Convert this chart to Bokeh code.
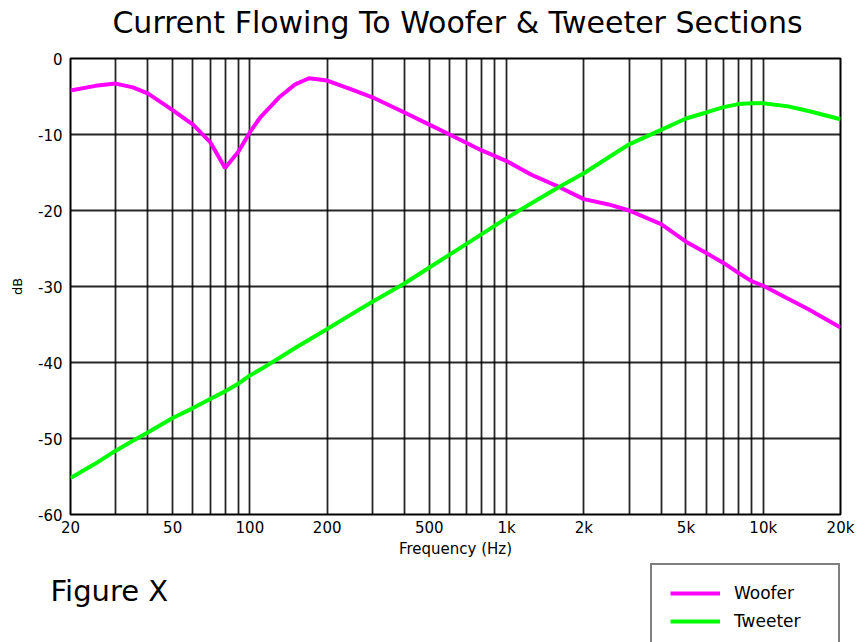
from bokeh.plotting import figure
from bokeh.models import Range1d, FixedTicker, Label, Legend, LegendItem
from bokeh.layouts import column
from bokeh.embed import file_html
from bokeh.resources import INLINE

freq = [20, 25, 30, 35, 40, 50, 60, 70, 80, 90, 100, 110, 130, 150, 170, 200, 250, 300,
        400, 500, 600, 800, 1000, 1250, 1600, 2000, 2500, 3000, 4000, 5000, 6000, 7000,
        8000, 9000, 10000, 12500, 15000, 20000]
woofer = [-4.2, -3.6, -3.3, -3.8, -4.6, -6.8, -8.7, -11.0, -14.4, -12.3, -9.7, -7.7, -5.1,
          -3.4, -2.6, -2.9, -4.1, -5.1, -7.1, -8.7, -10.0, -12.1, -13.5, -15.3, -16.9,
          -18.5, -19.2, -20.0, -21.8, -24.1, -25.6, -26.9, -28.2, -29.3, -29.9, -31.6,
          -33.0, -35.4]
tweeter = [-55.2, -53.3, -51.6, -50.3, -49.2, -47.3, -46.0, -44.8, -43.8, -42.8, -41.7,
           -40.9, -39.4, -38.1, -37.0, -35.6, -33.6, -32.0, -29.6, -27.5, -25.8, -23.1,
           -21.0, -19.05, -16.9, -15.1, -13.0, -11.3, -9.4, -7.9, -7.1, -6.4, -6.0, -5.9,
           -5.9, -6.3, -6.9, -8.0]

x_tick_vals = [20, 50, 100, 200, 500, 1000, 2000, 5000, 10000, 20000]
x_tick_text = ["20", "50", "100", "200", "500", "1k", "2k", "5k", "10k", "20k"]
x_grid_vals = [30, 40, 50, 60, 70, 80, 90, 100, 200, 300, 400, 500, 600, 700, 800, 900,
               1000, 2000, 3000, 4000, 5000, 6000, 7000, 8000, 9000, 10000]
y_tick_vals = [-60, -50, -40, -30, -20, -10, 0]
y_tick_text = ["-60", "-50", "-40", "-30", "-20", "-10", "0"]

series_names = ["Woofer", "Tweeter"]
series_colors = ["#FF00FF", "#00FF00"]

title_text = "Current Flowing To Woofer & Tweeter Sections"
caption_text = "Figure X"

FONT = "DejaVu Sans"
W = 857
NAN = float("nan")


def strip(height):
    f = figure(width=W, height=height, x_range=Range1d(0, W), y_range=Range1d(0, height),
               output_backend="svg", toolbar_location=None,
               min_border_left=0, min_border_right=0, min_border_top=0, min_border_bottom=0)
    f.axis.visible = False
    f.grid.visible = False
    f.outline_line_color = None
    f.frame_align = False
    return f


# top strip: title
p0 = strip(45)
p0.add_layout(Label(x=457, y=23, text=title_text, text_font=FONT, text_font_size="30px",
                    text_align="center", text_baseline="middle", text_color="black"))

# main chart
p = figure(width=W, height=515, x_axis_type="log",
           x_range=Range1d(20, 20000), y_range=Range1d(-60, 0),
           output_backend="svg", toolbar_location=None,
           min_border_left=70, min_border_right=17, min_border_top=13, min_border_bottom=44)
p.frame_align = False

p.outline_line_color = "black"
p.outline_line_width = 2

p.xgrid.ticker = FixedTicker(ticks=x_grid_vals)
p.ygrid.ticker = FixedTicker(ticks=y_tick_vals[1:-1])
for g in (p.xgrid, p.ygrid):
    g.grid_line_color = "black"
    g.grid_line_width = 1.8
    g.grid_line_alpha = 0.85

p.xaxis.ticker = FixedTicker(ticks=x_tick_vals)
p.xaxis.major_label_overrides = {v: t for v, t in zip(x_tick_vals, x_tick_text)}
p.yaxis.ticker = FixedTicker(ticks=y_tick_vals)
p.yaxis.major_label_overrides = {v: t for v, t in zip(y_tick_vals, y_tick_text)}

for ax in (p.xaxis, p.yaxis):
    ax.axis_line_color = None
    ax.major_tick_line_color = None
    ax.minor_tick_line_color = None
    ax.major_tick_out = 0
    ax.major_tick_in = 0
    ax.minor_tick_out = 0
    ax.major_label_text_font = FONT
    ax.major_label_text_font_size = "15px"
    ax.major_label_text_color = "black"
    ax.axis_label_text_font = FONT
    ax.axis_label_text_font_style = "normal"
    ax.axis_label_text_color = "black"

p.xaxis.axis_label = "Frequency (Hz)"
p.xaxis.axis_label_text_font_size = "15px"
p.xaxis.major_label_standoff = 4
p.xaxis.axis_label_standoff = 0
p.yaxis.axis_label = "dB"
p.yaxis.axis_label_text_font_size = "13px"
p.yaxis.major_label_standoff = 8
p.yaxis.axis_label_standoff = 10

p.line(freq, woofer, line_color=series_colors[0], line_width=4)
p.line(freq, tweeter, line_color=series_colors[1], line_width=4)

# bottom strip: caption and legend box
p2 = strip(82)

items = []
for name, col in zip(series_names, series_colors):
    r = p2.line([NAN, NAN], [NAN, NAN], line_color=col, line_width=4)
    items.append(LegendItem(label=name, renderers=[r]))

legend = Legend(items=items, location=(650, -9))
legend.label_text_font = FONT
legend.label_text_font_size = "17px"
legend.label_text_color = "black"
legend.glyph_width = 50
legend.glyph_height = 20
legend.label_height = 20
legend.label_width = 86
legend.label_standoff = 14
legend.spacing = 8
legend.padding = 18
legend.margin = 0
legend.border_line_color = "black"
legend.border_line_width = 2
legend.background_fill_color = "white"
legend.background_fill_alpha = 1.0
p2.add_layout(legend, "center")

p2.add_layout(Label(x=50, y=52, text=caption_text, text_font=FONT, text_font_size="29px",
                    text_baseline="middle", text_color="black"))

layout = column(p0, p, p2, spacing=0)
open("out.html", "w").write(file_html(layout, INLINE))
